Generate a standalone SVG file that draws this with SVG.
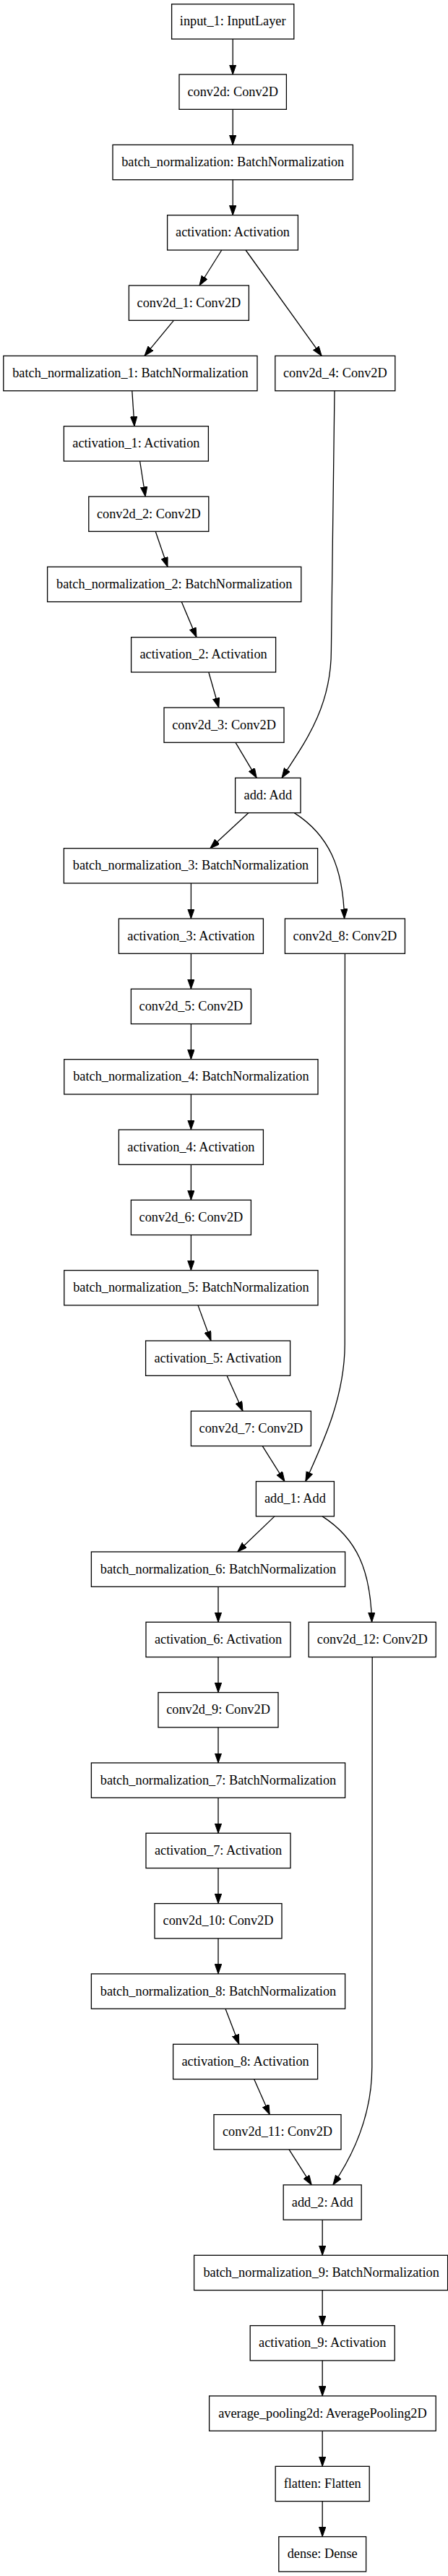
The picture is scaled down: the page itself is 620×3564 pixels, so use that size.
<svg xmlns="http://www.w3.org/2000/svg" width="620" height="3564" viewBox="0 0 620 3564">
<style>
.n rect{fill:#fff;stroke:#000;stroke-width:1.3}
.n text{font-family:"Liberation Serif","Times New Roman",serif;font-size:18.3px;text-anchor:middle;fill:#000}
#edges path{fill:none;stroke:#000;stroke-width:1.3;marker-end:url(#ah)}
</style>
<defs>
<marker id="ah" markerUnits="userSpaceOnUse" markerWidth="14" markerHeight="10" refX="13.5" refY="4.7" orient="auto"><path d="M0,0 L13.5,4.7 L0,9.4 z" fill="#000" stroke="#000" stroke-width="1"/></marker>
</defs>
<rect width="620" height="3564" fill="#fff"/>
<g id="edges">
<path d="M322.2,54 L322.2,103"/>
<path d="M322.2,151.3 L322.2,200.4"/>
<path d="M322.2,248.7 L322.2,297.7"/>
<path d="M306.8,346 L276,395"/>
<path d="M340,346 L445.2,492.4"/>
<path d="M240.4,443.3 L200,492.4"/>
<path d="M182.8,540.7 L186,589.7"/>
<path d="M193.6,638 L201.2,687"/>
<path d="M215.2,735.3 L232,784.3"/>
<path d="M251.2,832.6 L272,881.7"/>
<path d="M288.8,930 L302.8,979"/>
<path d="M326,1027.3 L355.2,1076.3"/>
<path d="M463,540.7 C460.5,700 458.4,840 458.4,900 C458.4,980 420,1030 390,1076.3"/>
<path d="M344,1124.6 L290.8,1173.7"/>
<path d="M407.2,1124.6 C455,1155 475,1200 476.6,1271"/>
<path d="M264.4,1222 L264.4,1271"/>
<path d="M264.4,1319.3 L264.4,1368.3"/>
<path d="M264.4,1416.6 L264.4,1465.7"/>
<path d="M264.4,1514 L264.4,1563"/>
<path d="M264.4,1611.3 L264.4,1660.3"/>
<path d="M264.4,1708.6 L264.4,1757.6"/>
<path d="M274,1805.9 L292,1855"/>
<path d="M314,1903.3 L336,1952.3"/>
<path d="M363.2,2000.6 L394,2049.6"/>
<path d="M477.4,1319.3 L477.2,1860 C477,1930 450,1990 422.8,2049.6"/>
<path d="M380,2097.9 L328.8,2147"/>
<path d="M446,2097.9 C494,2128.5 513,2173 514.6,2244.3"/>
<path d="M302,2195.3 L302,2244.3"/>
<path d="M302,2292.6 L302,2341.6"/>
<path d="M302,2389.9 L302,2439"/>
<path d="M302,2487.3 L302,2536.3"/>
<path d="M302,2584.6 L302,2633.6"/>
<path d="M302,2681.9 L302,2730.9"/>
<path d="M312,2779.2 L330.8,2828.3"/>
<path d="M351.6,2876.6 L373.2,2925.6"/>
<path d="M400,2973.9 L431.2,3022.9"/>
<path d="M515.2,2292.6 L514.8,2860 C514.6,2925 490,2980 460.8,3022.9"/>
<path d="M446.2,3071.2 L446.2,3120.3"/>
<path d="M446.2,3168.6 L446.2,3217.6"/>
<path d="M446.2,3265.9 L446.2,3314.9"/>
<path d="M446.2,3363.2 L446.2,3412.3"/>
<path d="M446.2,3460.6 L446.2,3509.6"/>
</g>
<g id="input_1" class="n"><rect x="237.6" y="5.7" width="169.2" height="48.3"/><text x="322.2" y="35.4">input_1: InputLayer</text></g>
<g id="conv2d" class="n"><rect x="248" y="103" width="148.4" height="48.3"/><text x="322.2" y="132.7">conv2d: Conv2D</text></g>
<g id="batch_normalization" class="n"><rect x="156" y="200.4" width="332.4" height="48.3"/><text x="322.2" y="230.1">batch_normalization: BatchNormalization</text></g>
<g id="activation" class="n"><rect x="231.6" y="297.7" width="180.8" height="48.3"/><text x="322" y="327.4">activation: Activation</text></g>
<g id="conv2d_1" class="n"><rect x="178.4" y="395" width="166" height="48.3"/><text x="261.4" y="424.7">conv2d_1: Conv2D</text></g>
<g id="conv2d_4" class="n"><rect x="380.8" y="492.4" width="166" height="48.3"/><text x="463.8" y="522.1">conv2d_4: Conv2D</text></g>
<g id="batch_normalization_1" class="n"><rect x="4.8" y="492.4" width="351.2" height="48.3"/><text x="180.4" y="522.1">batch_normalization_1: BatchNormalization</text></g>
<g id="activation_1" class="n"><rect x="88.4" y="589.7" width="200" height="48.3"/><text x="188.4" y="619.4">activation_1: Activation</text></g>
<g id="conv2d_2" class="n"><rect x="122.8" y="687" width="166" height="48.3"/><text x="205.8" y="716.7">conv2d_2: Conv2D</text></g>
<g id="batch_normalization_2" class="n"><rect x="65.6" y="784.3" width="351.2" height="48.3"/><text x="241.2" y="814">batch_normalization_2: BatchNormalization</text></g>
<g id="activation_2" class="n"><rect x="181.6" y="881.7" width="200" height="48.3"/><text x="281.6" y="911.4">activation_2: Activation</text></g>
<g id="conv2d_3" class="n"><rect x="227" y="979" width="166" height="48.3"/><text x="310" y="1008.7">conv2d_3: Conv2D</text></g>
<g id="add" class="n"><rect x="325.6" y="1076.3" width="90.4" height="48.3"/><text x="370.8" y="1106">add: Add</text></g>
<g id="batch_normalization_3" class="n"><rect x="88.4" y="1173.7" width="351.2" height="48.3"/><text x="264" y="1203.4">batch_normalization_3: BatchNormalization</text></g>
<g id="activation_3" class="n"><rect x="164.4" y="1271" width="200" height="48.3"/><text x="264.4" y="1300.7">activation_3: Activation</text></g>
<g id="conv2d_8" class="n"><rect x="394.4" y="1271" width="166" height="48.3"/><text x="477.4" y="1300.7">conv2d_8: Conv2D</text></g>
<g id="conv2d_5" class="n"><rect x="181.4" y="1368.3" width="166" height="48.3"/><text x="264.4" y="1398">conv2d_5: Conv2D</text></g>
<g id="batch_normalization_4" class="n"><rect x="88.8" y="1465.7" width="351.2" height="48.3"/><text x="264.4" y="1495.4">batch_normalization_4: BatchNormalization</text></g>
<g id="activation_4" class="n"><rect x="164.4" y="1563" width="200" height="48.3"/><text x="264.4" y="1592.7">activation_4: Activation</text></g>
<g id="conv2d_6" class="n"><rect x="181.4" y="1660.3" width="166" height="48.3"/><text x="264.4" y="1690">conv2d_6: Conv2D</text></g>
<g id="batch_normalization_5" class="n"><rect x="88.8" y="1757.6" width="351.2" height="48.3"/><text x="264.4" y="1787.3">batch_normalization_5: BatchNormalization</text></g>
<g id="activation_5" class="n"><rect x="201.6" y="1855" width="200" height="48.3"/><text x="301.6" y="1884.7">activation_5: Activation</text></g>
<g id="conv2d_7" class="n"><rect x="264.4" y="1952.3" width="166" height="48.3"/><text x="347.4" y="1982">conv2d_7: Conv2D</text></g>
<g id="add_1" class="n"><rect x="354.4" y="2049.6" width="108" height="48.3"/><text x="408.4" y="2079.3">add_1: Add</text></g>
<g id="batch_normalization_6" class="n"><rect x="126.4" y="2147" width="351.2" height="48.3"/><text x="302" y="2176.7">batch_normalization_6: BatchNormalization</text></g>
<g id="activation_6" class="n"><rect x="202" y="2244.3" width="200" height="48.3"/><text x="302" y="2274">activation_6: Activation</text></g>
<g id="conv2d_12" class="n"><rect x="427.2" y="2244.3" width="176" height="48.3"/><text x="515.2" y="2274">conv2d_12: Conv2D</text></g>
<g id="conv2d_9" class="n"><rect x="219" y="2341.6" width="166" height="48.3"/><text x="302" y="2371.3">conv2d_9: Conv2D</text></g>
<g id="batch_normalization_7" class="n"><rect x="126.4" y="2439" width="351.2" height="48.3"/><text x="302" y="2468.7">batch_normalization_7: BatchNormalization</text></g>
<g id="activation_7" class="n"><rect x="202" y="2536.3" width="200" height="48.3"/><text x="302" y="2566">activation_7: Activation</text></g>
<g id="conv2d_10" class="n"><rect x="214" y="2633.6" width="176" height="48.3"/><text x="302" y="2663.3">conv2d_10: Conv2D</text></g>
<g id="batch_normalization_8" class="n"><rect x="126.4" y="2730.9" width="351.2" height="48.3"/><text x="302" y="2760.6">batch_normalization_8: BatchNormalization</text></g>
<g id="activation_8" class="n"><rect x="239.6" y="2828.3" width="200" height="48.3"/><text x="339.6" y="2858">activation_8: Activation</text></g>
<g id="conv2d_11" class="n"><rect x="296" y="2925.6" width="176" height="48.3"/><text x="384" y="2955.3">conv2d_11: Conv2D</text></g>
<g id="add_2" class="n"><rect x="392.2" y="3022.9" width="108" height="48.3"/><text x="446.2" y="3052.6">add_2: Add</text></g>
<g id="batch_normalization_9" class="n"><rect x="268.6" y="3120.3" width="351" height="48.3"/><text x="444.6" y="3150">batch_normalization_9: BatchNormalization</text></g>
<g id="activation_9" class="n"><rect x="346.2" y="3217.6" width="200" height="48.3"/><text x="446.2" y="3247.3">activation_9: Activation</text></g>
<g id="average_pooling2d" class="n"><rect x="289.6" y="3314.9" width="313.6" height="48.3"/><text x="446.4" y="3344.6">average_pooling2d: AveragePooling2D</text></g>
<g id="flatten" class="n"><rect x="381.2" y="3412.3" width="130" height="48.3"/><text x="446.2" y="3442">flatten: Flatten</text></g>
<g id="dense" class="n"><rect x="385.8" y="3509.6" width="120.8" height="48.3"/><text x="446.2" y="3539.3">dense: Dense</text></g>
</svg>
